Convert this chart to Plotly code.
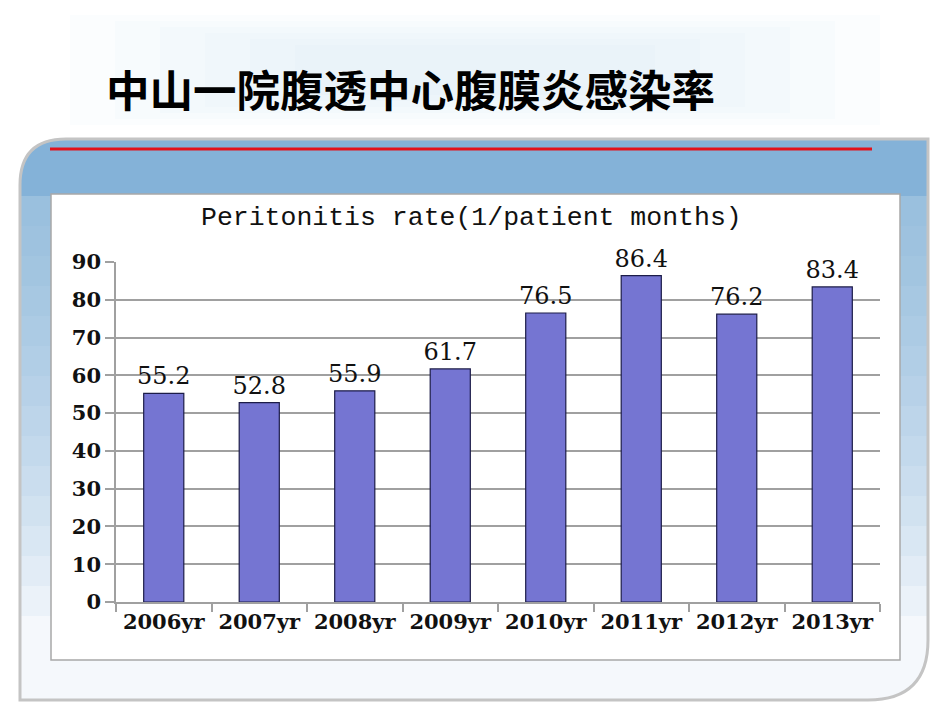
import plotly.graph_objects as go

years = ["2006yr", "2007yr", "2008yr", "2009yr", "2010yr", "2011yr", "2012yr", "2013yr"]
rates = [55.2, 52.8, 55.9, 61.7, 76.5, 86.4, 76.2, 83.4]
y_ticks = [0, 10, 20, 30, 40, 50, 60, 70, 80, 90]
page_title = "中山一院腹透中心腹膜炎感染率"
chart_title = "Peritonitis rate(1/patient months)"

W, H = 950, 713


def px(x):
    return x / W


def py(y):
    return 1 - y / H


def pt(x, y):
    return f"{px(x):.5f},{py(y):.5f}"


fig = go.Figure()
fig.add_trace(go.Bar(
    x=years, y=rates,
    marker=dict(color="#7575d2", line=dict(color="#1c1c48", width=1.2)),
    text=[f"{v:.1f}" for v in rates],
    textposition="outside",
    constraintext="none",
    textfont=dict(family="DejaVu Serif", size=24, color="#111111"),
    cliponaxis=False,
    hoverinfo="skip",
))

shapes = []
# faint header glow
for i in range(6):
    x0, x1 = 70 + i * 45, 880 - i * 45
    y0, y1 = 15 + i * 6, 125 - i * 6
    shapes.append(dict(type="rect", xref="paper", yref="paper", layer="below",
                       x0=px(x0), x1=px(x1), y0=py(y1), y1=py(y0),
                       fillcolor="rgba(215,232,248,0.09)", line=dict(width=0)))
# panel base
panel = (f"M {pt(20,700)} L {pt(20,185)} Q {pt(20,139)} {pt(66,139)} "
         f"L {pt(928,139)} L {pt(928,640)} Q {pt(928,700)} {pt(868,700)} Z")
shapes.append(dict(type="path", xref="paper", yref="paper", layer="below",
                   path=panel, fillcolor="#f5f8fc", line=dict(width=0)))
strips = [(196, 0.42)] + [(196 + 30 * i, 0.065) for i in range(1, 15)]
for yk, a in strips:
    p = (f"M {pt(20,yk)} L {pt(20,185)} Q {pt(20,139)} {pt(66,139)} "
         f"L {pt(928,139)} L {pt(928,yk)} Z")
    shapes.append(dict(type="path", xref="paper", yref="paper", layer="below",
                       path=p, fillcolor=f"rgba(110,160,215,{a})", line=dict(width=0)))
shapes.append(dict(type="path", xref="paper", yref="paper", layer="below",
                   path=panel, fillcolor="rgba(0,0,0,0)", line=dict(color="#c4c4c4", width=3)))
# red rule
shapes.append(dict(type="line", xref="paper", yref="paper", layer="below",
                   x0=px(50), x1=px(872), y0=py(149), y1=py(149),
                   line=dict(color="#e2121c", width=3)))
# chart box
shapes.append(dict(type="rect", xref="paper", yref="paper", layer="below",
                   x0=px(51), x1=px(900), y0=py(660), y1=py(194),
                   fillcolor="white", line=dict(color="#a8a8a8", width=1.5)))

fig.update_layout(
    width=W, height=H,
    margin=dict(l=0, r=0, t=0, b=0, pad=0, autoexpand=False),
    paper_bgcolor="white",
    plot_bgcolor="rgba(0,0,0,0)",
    showlegend=False,
    bargap=0.58,
    shapes=shapes,
    annotations=[
        dict(text=f"<b>{page_title}</b>", xref="paper", yref="paper",
             x=px(104), y=py(88), xanchor="left", yanchor="middle", showarrow=False,
             font=dict(family="Noto Sans CJK SC", size=43.5, color="#000000")),
        dict(text=chart_title, xref="paper", yref="paper",
             x=px(471), y=py(218), xanchor="center", yanchor="middle", showarrow=False,
             font=dict(family="Liberation Mono", size=26.5, color="#111111")),
    ],
    xaxis=dict(
        domain=[px(116), px(880)],
        type="category",
        automargin=False,
        showline=True, linecolor="#a0a0a0", linewidth=1.5,
        ticks="outside", tickson="boundaries", ticklen=8, tickcolor="#a0a0a0", tickwidth=1.5,
        tickfont=dict(family="DejaVu Serif", size=21, color="#111111", weight="bold"),
        showgrid=False,
    ),
    yaxis=dict(
        domain=[py(602), py(262)],
        range=[0, 90],
        automargin=False,
        tickvals=y_ticks,
        showline=True, linecolor="#a0a0a0", linewidth=1.5,
        ticks="outside", ticklen=9, tickcolor="#a0a0a0", tickwidth=1.5,
        showgrid=True, gridcolor="#a0a0a0", gridwidth=1.5,
        zeroline=False,
        tickfont=dict(family="DejaVu Serif", size=21, color="#111111", weight="bold"),
    ),
)

fig.write_html("out.html")
